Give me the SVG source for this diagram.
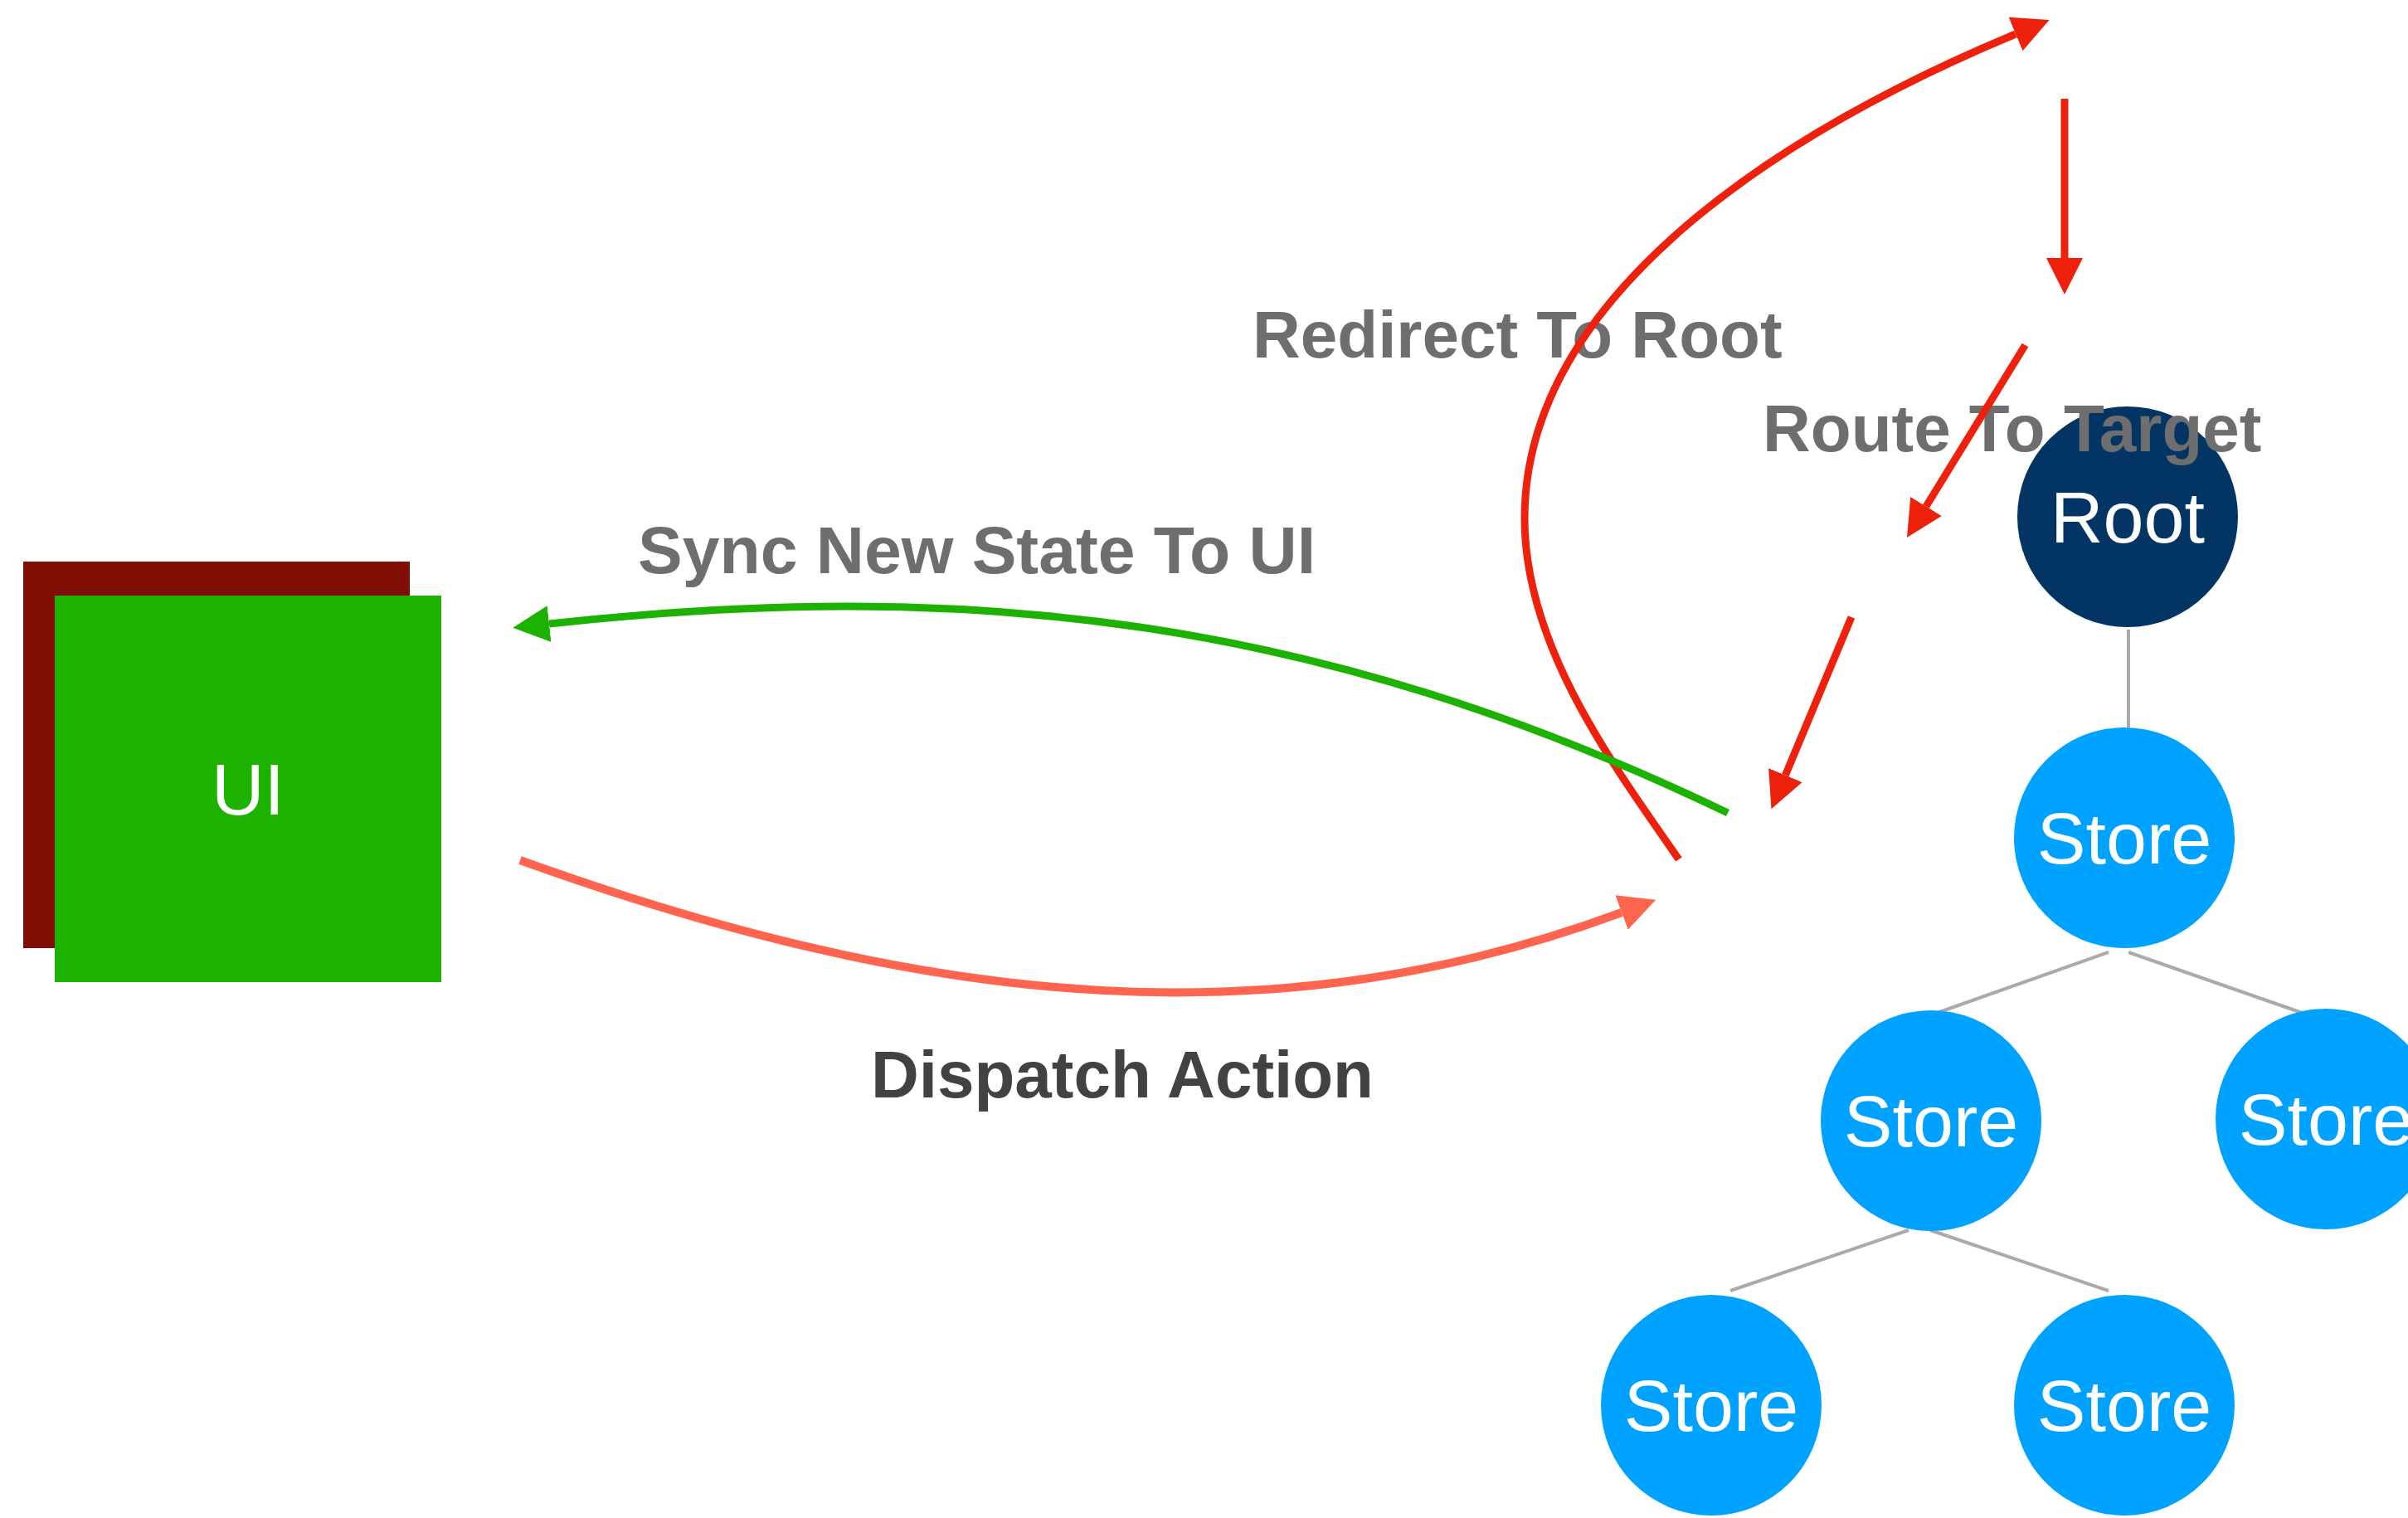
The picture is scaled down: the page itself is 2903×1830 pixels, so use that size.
<svg xmlns="http://www.w3.org/2000/svg" width="2903" height="1830" viewBox="0 0 2903 1830">
<style>
.lbl{font-family:"Liberation Sans",Arial,Helvetica,sans-serif;font-weight:bold;fill:#6E6E6E}
.dark{fill:#424242}
.ntxt{font-family:"Liberation Sans",Arial,Helvetica,sans-serif;fill:#FFFFFF;text-anchor:middle;font-size:88px}
.store{fill:#00A2FF}
.tree{stroke:#AAAAAA;stroke-width:4;fill:none}
.red{stroke:#EE220C;stroke-width:9;fill:none;marker-end:url(#ah-red)}
</style>
<defs>
<marker id="ah-red" markerUnits="userSpaceOnUse" markerWidth="44" markerHeight="44" refX="0" refY="22" orient="auto" viewBox="0 0 44 44"><path d="M0,0 L44,22 L0,44 Z" fill="#EE220C"/></marker>
<marker id="ah-green" markerUnits="userSpaceOnUse" markerWidth="44" markerHeight="44" refX="0" refY="22" orient="auto" viewBox="0 0 44 44"><path d="M0,0 L44,22 L0,44 Z" fill="#1DB100"/></marker>
<marker id="ah-salmon" markerUnits="userSpaceOnUse" markerWidth="44" markerHeight="44" refX="0" refY="22" orient="auto" viewBox="0 0 44 44"><path d="M0,0 L44,22 L0,44 Z" fill="#FF644E"/></marker>
</defs>
<rect width="2903" height="1830" fill="#FFFFFF"/>

<g id="ui">
<rect x="28" y="677" width="466" height="466" fill="#800E04"/>
<rect x="66" y="718" width="466" height="466" fill="#1DB100"/>
<text class="ntxt" x="299" y="982" font-size="85">UI</text>
</g>

<g id="tree-links">
<line class="tree" x1="2566" y1="759" x2="2566" y2="877"/>
<line class="tree" x1="2542" y1="1148" x2="2327" y2="1224"/>
<line class="tree" x1="2566" y1="1148" x2="2781" y2="1223"/>
<line class="tree" x1="2301" y1="1483" x2="2086" y2="1556"/>
<line class="tree" x1="2327" y1="1483" x2="2542" y2="1556"/>
</g>

<g id="root">
<circle cx="2565" cy="623" r="133" fill="#023563"/>
<text class="ntxt" x="2565" y="654">Root</text>
</g>
<g id="store1">
<circle class="store" cx="2561" cy="1010" r="133"/>
<text class="ntxt" x="2561" y="1041" font-size="89">Store</text>
</g>
<g id="store2">
<circle class="store" cx="2328" cy="1351" r="133"/>
<text class="ntxt" x="2328" y="1382" font-size="89">Store</text>
</g>
<g id="store3">
<circle class="store" cx="2804" cy="1349" r="133"/>
<text class="ntxt" x="2804" y="1380" font-size="89">Store</text>
</g>
<g id="store4">
<circle class="store" cx="2063" cy="1694" r="133"/>
<text class="ntxt" x="2063" y="1725" font-size="89">Store</text>
</g>
<g id="store5">
<circle class="store" cx="2561" cy="1694" r="133"/>
<text class="ntxt" x="2561" y="1725" font-size="89">Store</text>
</g>

<g id="labels">
<text class="lbl" x="1510" y="431" font-size="80">Redirect To Root</text>
<text class="lbl" x="2125" y="544" font-size="80">Route To Target</text>
<text class="lbl" x="769" y="691" font-size="80.5">Sync New State To UI</text>
<text class="lbl dark" x="1050" y="1323" font-size="80">Dispatch Action</text>
</g>

<g id="connectors">
<path class="red" d="M2024,1036 C1937.9,913.2 1838,775 1838,625 C1838,375 2107,175.8 2430,41"/>
<path class="red" d="M2489,119 L2489,311"/>
<path class="red" d="M2441.5,416 L2322,610.5"/>
<path class="red" d="M2232,744 L2152.4,934.6"/>
<path d="M2083,980 C1584.7,740 1160,698 662,752" fill="none" stroke="#1DB100" stroke-width="9" marker-end="url(#ah-green)"/>
<path d="M627,1037 C1140,1222 1550,1250 1955,1100" fill="none" stroke="#FF644E" stroke-width="10" marker-end="url(#ah-salmon)"/>
</g>
</svg>
